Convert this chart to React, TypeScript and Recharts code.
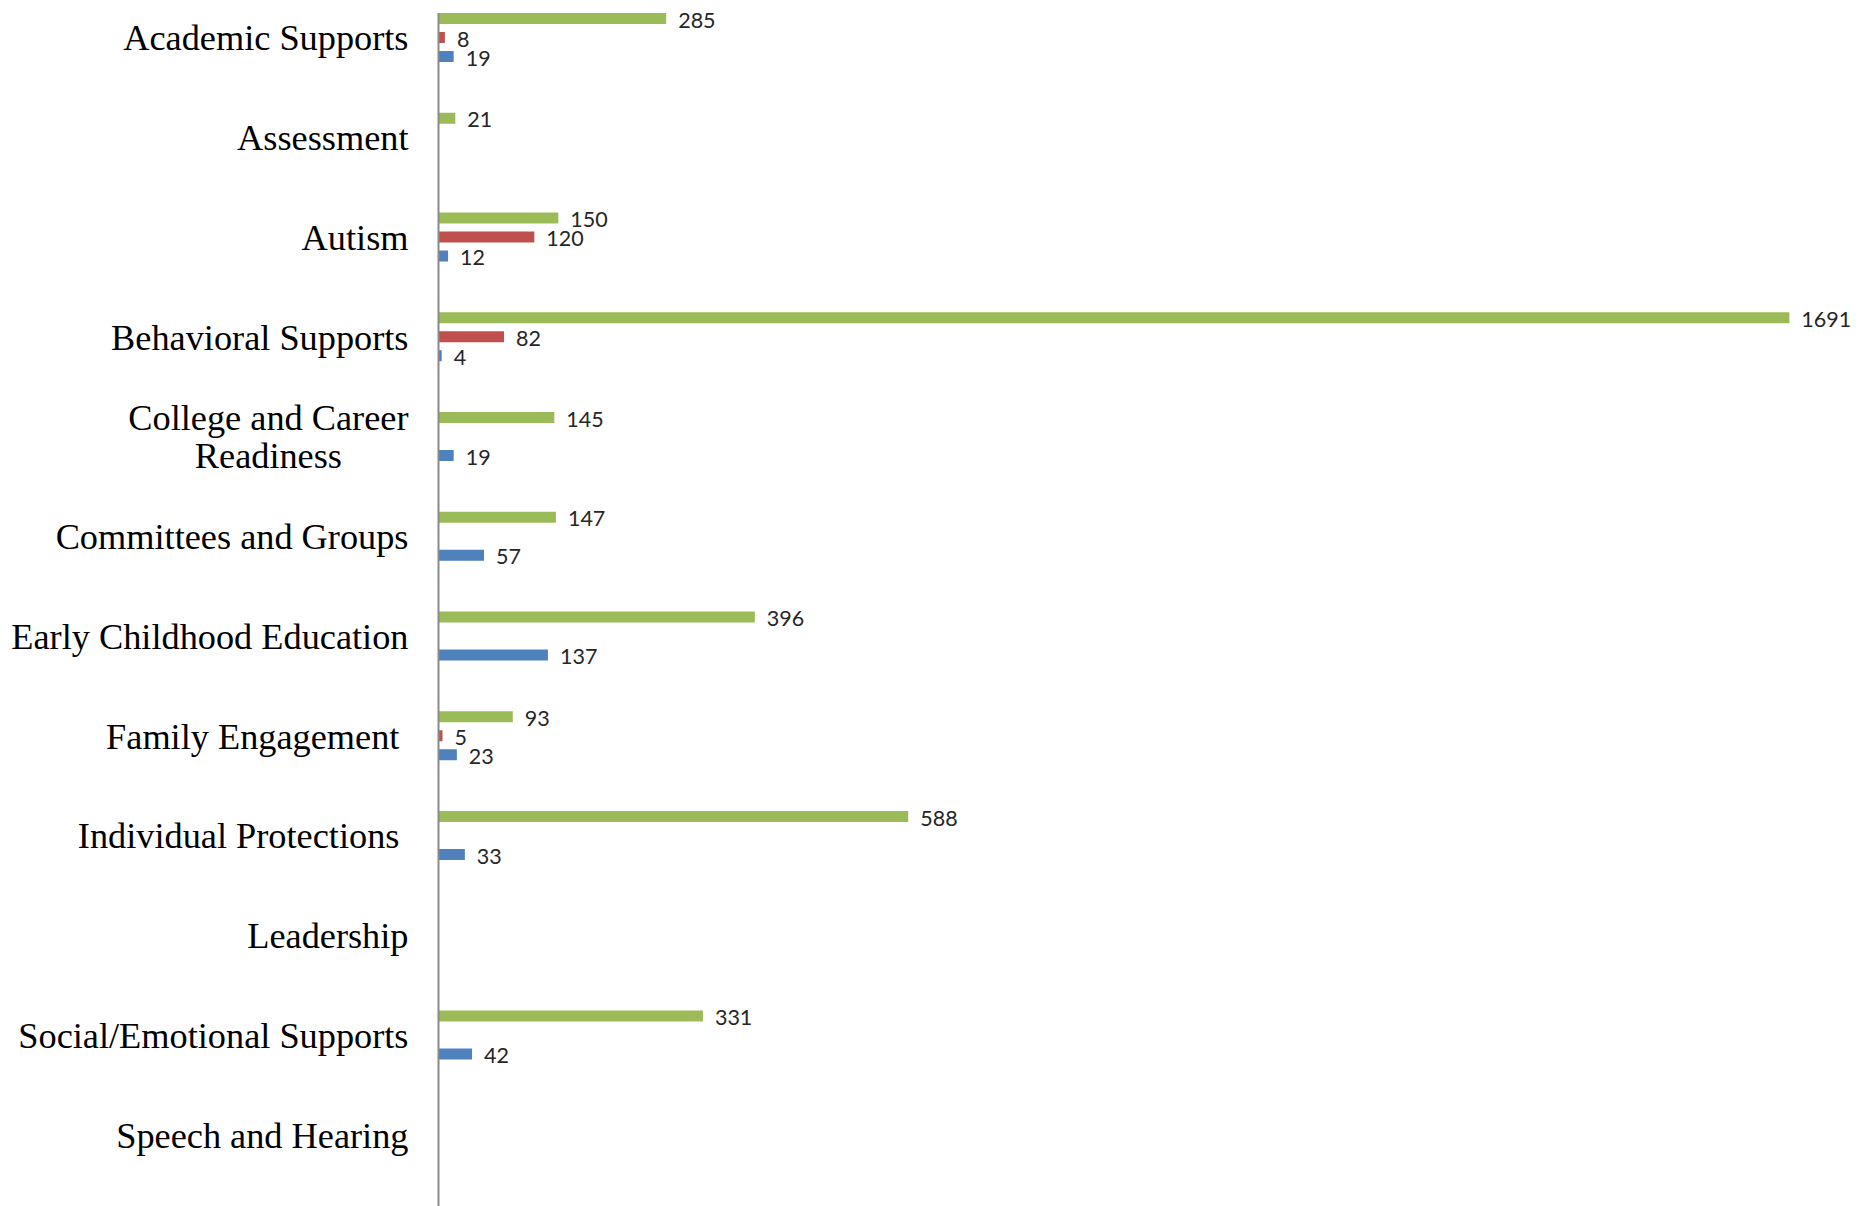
import React from "react"
import { BarChart, Bar, XAxis, YAxis, LabelList } from "recharts"

const categories = [
  "Academic Supports",
  "Assessment",
  "Autism",
  "Behavioral Supports",
  "College and Career Readiness",
  "Committees and Groups",
  "Early Childhood Education",
  "Family Engagement ",
  "Individual Protections ",
  "Leadership",
  "Social/Emotional Supports",
  "Speech and Hearing",
]

// null = no bar drawn for that category
const greenValues = [285, 21, 150, 1691, 145, 147, 396, 93, 588, null, 331, null]
const redValues = [8, null, 120, 82, null, null, null, 5, null, null, null, null]
const blueValues = [19, null, 12, 4, 19, 57, 137, 23, 33, null, 42, null]

const data = categories.map((name, i) => ({
  name,
  green: greenValues[i],
  red: redValues[i],
  blue: blueValues[i],
}))

const LABEL_SIZE = 36.3
const LABEL_FONT = `${LABEL_SIZE}px 'Liberation Serif'`
const MAX_LABEL_WIDTH = 405

let ctx: CanvasRenderingContext2D | null = null
function measure(text: string) {
  if (!ctx) {
    ctx = document.createElement("canvas").getContext("2d")
  }
  if (!ctx) return text.length * 16
  ctx.font = LABEL_FONT
  return ctx.measureText(text).width
}

// wrap like Excel does when a category name is too long
function wrap(text: string) {
  const words = text.split(" ")
  const lines: string[] = []
  let cur = ""
  for (const w of words) {
    const next = cur ? cur + " " + w : w
    if (cur && measure(next.trimEnd()) > MAX_LABEL_WIDTH) {
      lines.push(cur)
      cur = w
    } else {
      cur = next
    }
  }
  if (cur) lines.push(cur)
  return lines
}

function CategoryTick({ x, y, payload }: any) {
  const text: string = payload.value
  const lines = wrap(text)
  const textStyle = {
    fontFamily: "'Liberation Serif', serif",
    fontSize: LABEL_SIZE,
    fill: "#000",
    whiteSpace: "pre" as const,
  }
  if (lines.length === 1) {
    return (
      <text x={x} y={y + 12.5} textAnchor="end" style={textStyle}>
        {text}
      </text>
    )
  }
  const w = Math.max(...lines.map((l) => measure(l)))
  const lineH = 38
  const top = y + 12.5 - ((lines.length - 1) * lineH) / 2
  return (
    <g>
      {lines.map((l, i) => (
        <text key={i} x={x - w / 2} y={top + i * lineH} textAnchor="middle" style={textStyle}>
          {l}
        </text>
      ))}
    </g>
  )
}

function ValueLabel(props: any) {
  const { x, y, width, height, value } = props
  if (value === null || value === undefined) return null
  return (
    <text
      x={x + width + 12}
      y={y + height / 2 + 9}
      textAnchor="start"
      style={{ fontFamily: "Lato, 'Open Sans', sans-serif", fontSize: 21.5, fill: "#262626" }}
    >
      {value}
    </text>
  )
}

export default function App() {
  return (
    <div style={{ position: "absolute", left: 0, top: 0, background: "#fff" }}>
      <BarChart
        layout="vertical"
        width={1873}
        height={1206}
        data={data}
        margin={{ top: 13, right: 36.5, bottom: 0, left: 0 }}
        barSize={11}
        barGap={8}
      >
        <XAxis type="number" domain={[0, 1750]} hide />
        <YAxis
          type="category"
          dataKey="name"
          width={438.5}
          interval={0}
          tickSize={0}
          tickMargin={30}
          tickLine={false}
          axisLine={{ stroke: "#8a8a8a", strokeWidth: 2 }}
          padding={{ top: -25, bottom: 21 }}
          tick={<CategoryTick />}
        />
        <Bar dataKey="green" fill="#9BBB59" isAnimationActive={false}>
          <LabelList dataKey="green" content={<ValueLabel />} />
        </Bar>
        <Bar dataKey="red" fill="#C0504D" isAnimationActive={false}>
          <LabelList dataKey="red" content={<ValueLabel />} />
        </Bar>
        <Bar dataKey="blue" fill="#4F81BD" isAnimationActive={false}>
          <LabelList dataKey="blue" content={<ValueLabel />} />
        </Bar>
      </BarChart>
    </div>
  )
}
